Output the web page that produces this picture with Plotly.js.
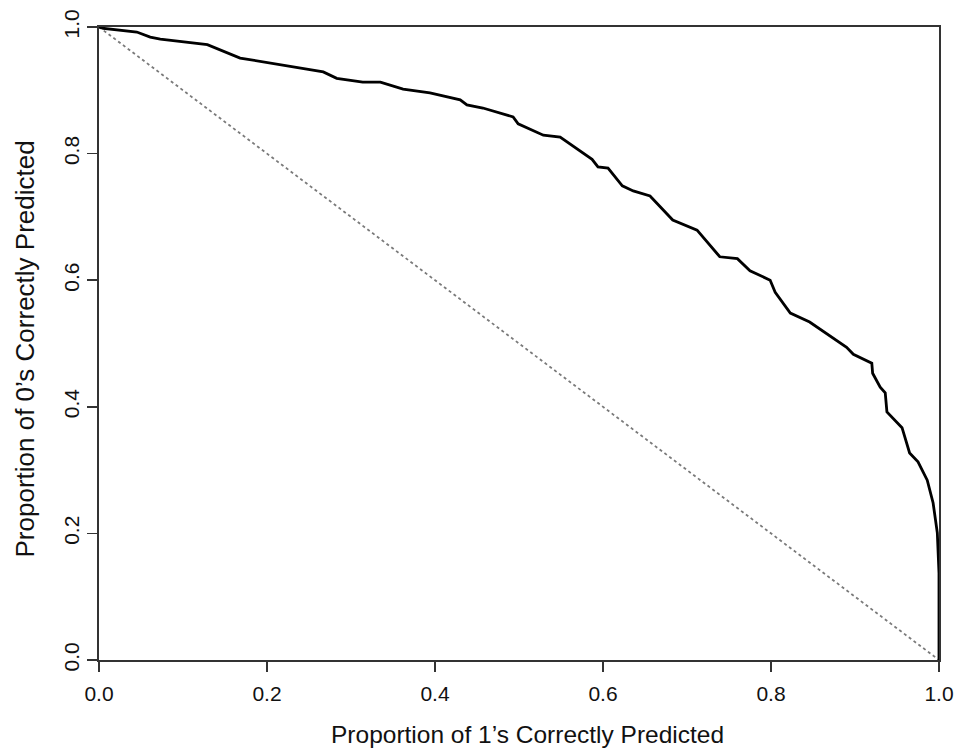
<!DOCTYPE html>
<html>
<head>
<meta charset="utf-8">
<script src="https://cdn.plot.ly/plotly-3.0.1.min.js"></script>
<style>html,body{margin:0;padding:0;background:#fff;}#chart{width:966px;height:749px;}</style>
</head>
<body>
<div id="chart"></div>
<script>
// Proportion of 1's correctly predicted (x) vs proportion of 0's correctly predicted (y)
const propOnes = [0, 0.005, 0.045, 0.061, 0.073, 0.108, 0.129, 0.168, 0.215, 0.267, 0.283, 0.314, 0.335,
  0.362, 0.394, 0.430, 0.438, 0.457, 0.493, 0.499, 0.529, 0.549, 0.587, 0.594, 0.606, 0.623, 0.636,
  0.656, 0.683, 0.712, 0.739, 0.760, 0.775, 0.799, 0.805, 0.823, 0.846, 0.890, 0.898, 0.920, 0.921,
  0.930, 0.936, 0.938, 0.956, 0.965, 0.975, 0.986, 0.993, 0.998, 1.000, 1.000];
const propZeros = [1.000, 0.998, 0.992, 0.984, 0.981, 0.976, 0.972, 0.951, 0.940, 0.929, 0.919, 0.913, 0.913,
  0.902, 0.896, 0.885, 0.877, 0.872, 0.858, 0.847, 0.829, 0.826, 0.791, 0.779, 0.777, 0.749, 0.741,
  0.733, 0.695, 0.679, 0.637, 0.634, 0.615, 0.600, 0.581, 0.548, 0.534, 0.494, 0.483, 0.469, 0.453,
  0.431, 0.422, 0.392, 0.367, 0.327, 0.313, 0.284, 0.248, 0.201, 0.137, 0.000];
const refX = [0, 1];
const refY = [1, 0];
const tickVals = [0, 0.2, 0.4, 0.6, 0.8, 1.0];
const tickText = ["0.0", "0.2", "0.4", "0.6", "0.8", "1.0"];
const xTitle = "Proportion of 1’s Correctly Predicted";
const yTitle = "Proportion of 0’s Correctly Predicted";

const font = "Liberation Sans, Arial, sans-serif";
const axisCommon = {
  range: [0, 1], showgrid: false, zeroline: false,
  showline: true, mirror: true, linecolor: "#333", linewidth: 1.6,
  ticks: "outside", ticklen: 10, tickwidth: 1.6, tickcolor: "#333",
  tickvals: tickVals, ticktext: tickText,
  tickfont: {family: font, size: 21, color: "#111"},
  fixedrange: true
};

const data = [
  {x: refX, y: refY, mode: "lines", type: "scatter",
   line: {color: "#7a7a7a", width: 1.8, dash: "dot"}, hoverinfo: "skip"},
  {x: propOnes, y: propZeros, mode: "lines", type: "scatter",
   line: {color: "#000", width: 2.8}}
];

const layout = {
  width: 966, height: 749,
  margin: {l: 99, r: 27, t: 27, b: 89},
  paper_bgcolor: "#fff", plot_bgcolor: "#fff",
  showlegend: false,
  xaxis: Object.assign({}, axisCommon, {ticklabelstandoff: 4}),
  yaxis: Object.assign({}, axisCommon, {tickangle: -90}),
  annotations: [
    {text: xTitle, xref: "paper", yref: "paper", x: 0.5, y: 0, yshift: -74, xshift: 8,
     xanchor: "center", yanchor: "middle", showarrow: false,
     font: {family: font, size: 24.5, color: "#111"}},
    {text: yTitle, xref: "paper", yref: "paper", x: 0, y: 0.5, xshift: -75, yshift: -6,
     xanchor: "center", yanchor: "middle", textangle: -90, showarrow: false,
     font: {family: font, size: 26, color: "#111"}}
  ]
};

Plotly.newPlot("chart", data, layout, {displayModeBar: false, staticPlot: true});
</script>
</body>
</html>
